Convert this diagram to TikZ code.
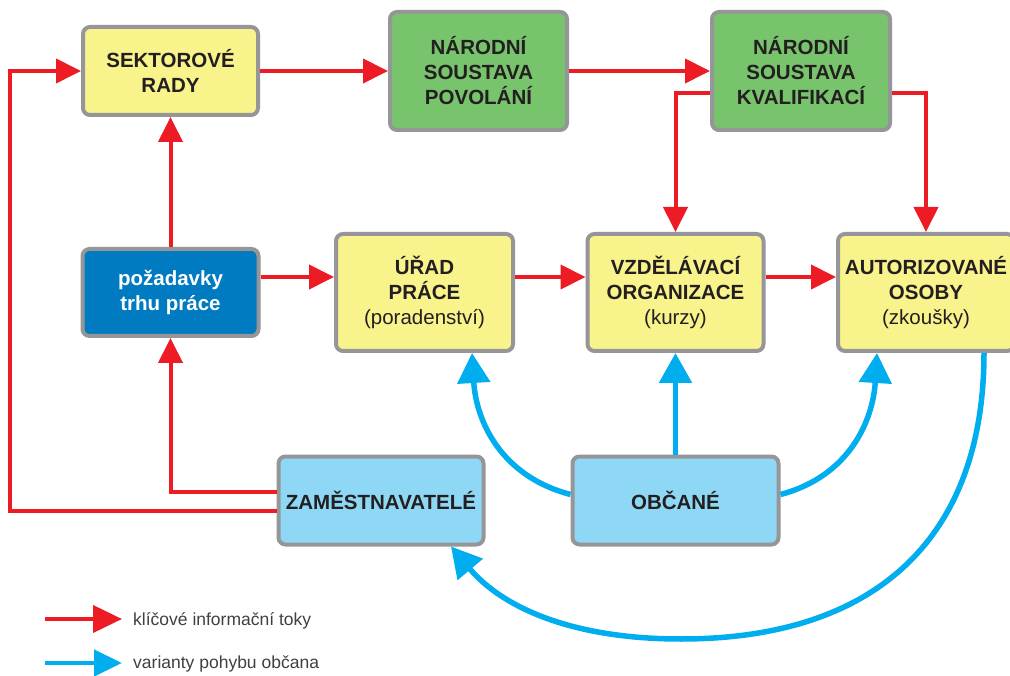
\documentclass[tikz,border=0pt]{standalone}
\usepackage{fontspec}
\setmainfont{Liberation Sans}
\usetikzlibrary{arrows.meta,calc}
\definecolor{bylw}{RGB}{249,243,139}
\definecolor{bgrn}{RGB}{120,196,108}
\definecolor{bblu}{RGB}{0,122,192}
\definecolor{blbl}{RGB}{142,216,246}
\definecolor{bgry}{RGB}{150,150,153}
\definecolor{ared}{RGB}{237,28,36}
\definecolor{acyn}{RGB}{0,174,239}
\definecolor{tdark}{RGB}{35,31,32}
\definecolor{tleg}{RGB}{64,64,65}
\begin{document}
\begin{tikzpicture}[x=1pt,y=-1pt,
  box/.style={draw=bgry, line width=4pt, rounded corners=7pt, inner sep=0pt,
    align=center, text=tdark, font=\fontsize{20.5}{25}\selectfont\bfseries},
  redflow/.style={draw=ared, line width=4pt, -{Triangle[length=25pt,width=24pt]}},
  bluflow/.style={draw=acyn, line width=5.5pt, -{Triangle[length=30pt,width=32pt]}},
  legtext/.style={anchor=base west, inner sep=0pt, text=tleg, font=\fontsize{17.5}{20}\selectfont}
]
\fill[white] (0,0) rectangle (1010,676);
\useasboundingbox (0,0) rectangle (1010,676);

% boxes
\node[box, fill=bylw, minimum width=175pt, minimum height=88pt] (sek) at (170.5,71) {SEKTOROVÉ\\RADY};
\node[box, fill=bgrn, minimum width=177pt, minimum height=118pt] (nsp) at (478.5,71) {NÁRODNÍ\\SOUSTAVA\\POVOLÁNÍ};
\node[box, fill=bgrn, minimum width=178pt, minimum height=118pt] (nsk) at (801,71) {NÁRODNÍ\\SOUSTAVA\\KVALIFIKACÍ};
\node[box, fill=bblu, text=white, minimum width=176pt, minimum height=87pt] (poz) at (170.5,292.5) {požadavky\\trhu práce};
\node[box, fill=bylw, minimum width=177pt, minimum height=117pt] (urad) at (424.5,292.5) {ÚŘAD\\PRÁCE\\{\mdseries (poradenství)}};
\node[box, fill=bylw, minimum width=176pt, minimum height=117pt] (vzd) at (675.5,292.5) {VZDĚLÁVACÍ\\ORGANIZACE\\{\mdseries (kurzy)}};
\node[box, fill=bylw, minimum width=176pt, minimum height=117pt] (aut) at (926,292.5) {AUTORIZOVANÉ\\OSOBY\\{\mdseries (zkoušky)}};
\node[box, fill=blbl, minimum width=205pt, minimum height=88pt] (zam) at (381,500.5) {ZAMĚSTNAVATELÉ};
\node[box, fill=blbl, minimum width=206pt, minimum height=88pt] (obc) at (675.5,500.5) {OBČANÉ};

\coordinate (lft) at (10,0);

% red flows
\draw[redflow] (sek.east) -- (nsp.west);
\draw[redflow] (nsp.east) -- (nsk.west);
\draw[redflow] ([yshift=-22pt]nsk.west) -| (vzd.north);
\draw[redflow] ([yshift=-22pt]nsk.east) -| (aut.north);
\draw[redflow] (poz.north) -- (sek.south);
\draw[redflow] ([yshift=15.5pt]poz.east) -- ([yshift=15.5pt]urad.west);
\draw[redflow] ([yshift=15.5pt]urad.east) -- ([yshift=15.5pt]vzd.west);
\draw[redflow] ([yshift=15.5pt]vzd.east) -- ([yshift=15.5pt]aut.west);
\draw[redflow] ([yshift=8.5pt]zam.west) -| (poz.south);
\draw[redflow] ([yshift=-10.5pt]zam.west) -| (lft |- sek.west) -- (sek.west);

% blue flows
\draw[bluflow] (obc.north) -- (vzd.south);
\draw[bluflow] ([yshift=6pt]obc.west) .. controls (500,476) and (476,420) .. ([xshift=47.5pt]urad.south);
\draw[bluflow] ([yshift=6pt]obc.east) .. controls (850,476) and (873,420) .. ([xshift=-49pt]aut.south);
\draw[bluflow] ([xshift=58pt]aut.south) .. controls (984,533) and (881,639) .. (681,639)
  .. controls (571,639) and (502,607) .. ([xshift=70pt]zam.south);

% legend
\coordinate (l1a) at (45,619);
\coordinate (l1b) at (122,619);
\coordinate (l2a) at (45,663);
\coordinate (l2b) at (122,663);
\draw[draw=ared, line width=4pt, -{Triangle[length=29pt,width=27pt]}] (l1a) -- (l1b);
\draw[draw=acyn, line width=4.5pt, -{Triangle[length=28pt,width=26pt]}] (l2a) -- (l2b);
\node[legtext] (lt1) at (133,625) {klíčové informační toky};
\node[legtext] (lt2) at (133,668.5) {varianty pohybu občana};
\end{tikzpicture}
\end{document}
